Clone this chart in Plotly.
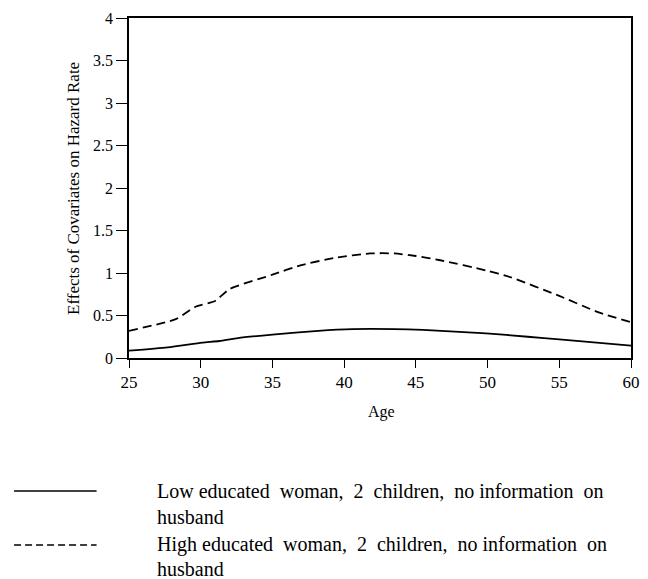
import plotly.graph_objects as go

# ---- data ----
age_low = [25, 27.7, 30.1, 31.3, 32.6, 35, 38.2, 40.6, 43.5, 45.5, 49.9, 52.8, 55, 60]
low_edu = [0.086, 0.125, 0.18, 0.20, 0.235, 0.275, 0.32, 0.34, 0.34, 0.33, 0.29, 0.25, 0.22, 0.145]

age_high = [25, 28.3, 29.6, 31, 32, 35, 36.95, 39.4, 41.8, 43.5, 45, 46.7, 49.9, 51.6, 55, 57.7, 60]
high_edu = [0.32, 0.46, 0.60, 0.67, 0.81, 0.98, 1.09, 1.18, 1.23, 1.23, 1.20, 1.15, 1.03, 0.95, 0.73, 0.54, 0.42]

x_ticks = [25, 30, 35, 40, 45, 50, 55, 60]
y_ticks = [0, 0.5, 1, 1.5, 2, 2.5, 3, 3.5, 4]
y_tick_text = ["0", "0.5", "1", "1.5", "2", "2.5", "3", "3.5", "4"]

legend_labels = [
    ["Low educated&nbsp; woman,&nbsp; 2&nbsp; children,&nbsp; no information&nbsp; on", "husband"],
    ["High educated&nbsp; woman,&nbsp; 2&nbsp; children,&nbsp; no information&nbsp; on", "husband"],
]
legend_dash = ["solid", "7px,4px"]

# ---- layout geometry (pixels) ----
W, H = 648, 579
L, R, T, B = 129, 8, 18, 221
PW, PH = W - L - R, H - T - B
FONT = "Liberation Serif"


def px(x):
    return (x - L) / PW


def py(y):
    return (H - B - y) / PH


fig = go.Figure()
fig.add_trace(go.Scatter(x=age_low, y=low_edu, mode="lines",
                         line=dict(color="black", width=1.8, shape="spline", smoothing=0.6),
                         showlegend=False))
fig.add_trace(go.Scatter(x=age_high, y=high_edu, mode="lines",
                         line=dict(color="black", width=1.8, dash="9px,5px", shape="spline", smoothing=0.6),
                         showlegend=False))

shapes = []
annotations = []
line_y = [491, 545]
text_y = [[491, 517], [544, 569]]
for i in range(2):
    shapes.append(dict(type="line", xref="paper", yref="paper", x0=px(12), x1=px(96),
                       y0=py(line_y[i]), y1=py(line_y[i]),
                       line=dict(color="black", width=1.3, dash=legend_dash[i])))
    for j, t in enumerate(legend_labels[i]):
        annotations.append(dict(text=t, xref="paper", yref="paper", x=px(155), y=py(text_y[i][j]),
                                xanchor="left", yanchor="middle", showarrow=False,
                                font=dict(family=FONT, size=20, color="black")))

annotations.append(dict(text="Effects of Covariates on Hazard Rate", xref="paper", yref="paper",
                        x=px(72), y=py(189), textangle=-90, xanchor="center", yanchor="middle",
                        showarrow=False, font=dict(family=FONT, size=17, color="black")))
annotations.append(dict(text="Age", xref="paper", yref="paper", x=px(386), y=py(412),
                        xanchor="center", yanchor="middle", showarrow=False,
                        font=dict(family=FONT, size=16, color="black")))

fig.update_layout(
    width=W, height=H,
    margin=dict(l=L, r=R, t=T, b=B, pad=0),
    paper_bgcolor="white", plot_bgcolor="white",
    font=dict(family=FONT, size=16, color="black"),
    shapes=shapes, annotations=annotations,
    xaxis=dict(range=[25, 60], tickvals=x_ticks, ticks="outside", ticklen=8, tickwidth=1.3,
               tickcolor="black", showline=True, linecolor="black", linewidth=1.5, mirror=True,
               showgrid=False, zeroline=False, tickfont=dict(family=FONT, size=17)),
    yaxis=dict(range=[0, 4], tickvals=y_ticks, ticktext=y_tick_text, ticks="outside", ticklen=11,
               tickwidth=1.3, tickcolor="black", showline=True, linecolor="black", linewidth=1.5,
               mirror=True, showgrid=False, zeroline=False, tickfont=dict(family=FONT, size=16)),
)

fig.write_html("out.html")
